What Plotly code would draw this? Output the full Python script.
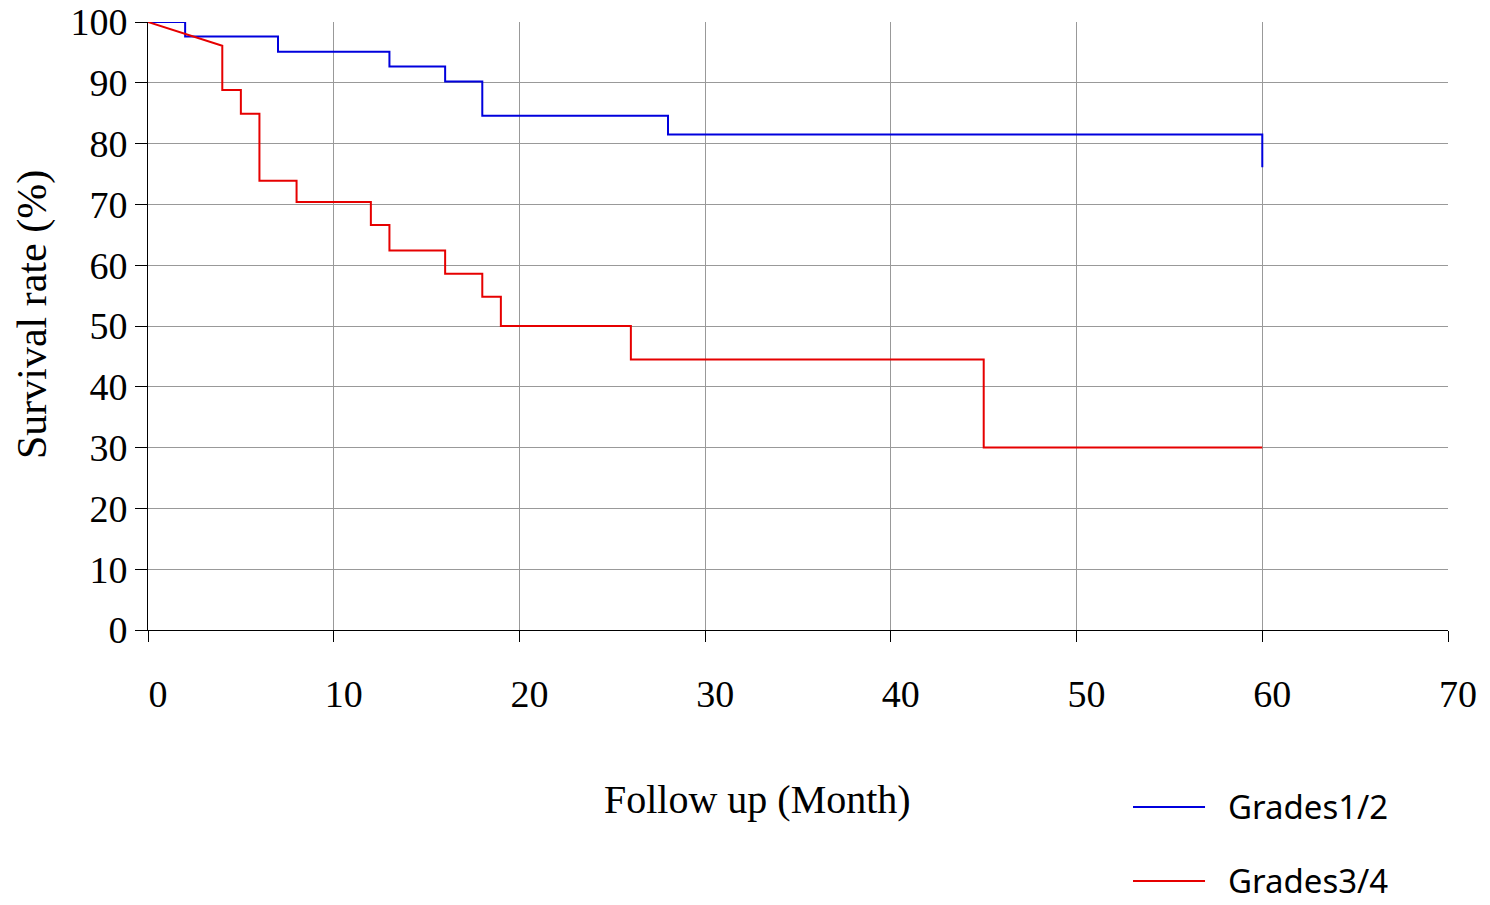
import plotly.graph_objects as go

# Kaplan-Meier survival estimates (%), follow-up in months
series_names = ["Grades1/2", "Grades3/4"]
series_colors = ["#0000dd", "#e60000"]

blue_time = [2, 7, 13, 16, 18, 28, 60]
blue_surv = [97.6, 95.1, 92.7, 90.2, 84.6, 81.5, 76.1]

# the grade 3/4 curve opens with a straight segment to its first point
red_start = (4, 96.1)
red_time = [4, 5, 6, 8, 12, 13, 16, 18, 19, 26, 45]
red_surv = [88.8, 84.9, 73.9, 70.4, 66.6, 62.4, 58.6, 54.8, 50.0, 44.5, 30.0]

follow_end = 60
x_ticks = [0, 10, 20, 30, 40, 50, 60, 70]
y_ticks = [0, 10, 20, 30, 40, 50, 60, 70, 80, 90, 100]


def step_path(times, surv, start=None, end=follow_end):
    xs, ys = [0], [100]
    if start is not None:
        xs.append(start[0])
        ys.append(start[1])
    level = ys[-1]
    for t, s in zip(times, surv):
        xs += [t, t]
        ys += [level, s]
        level = s
    if xs[-1] < end:
        xs.append(end)
        ys.append(level)
    return xs, ys


bx, by = step_path(blue_time, blue_surv)
rx, ry = step_path(red_time, red_surv, start=red_start)

serif = "Liberation Serif, Times New Roman, serif"

fig = go.Figure()
fig.add_trace(go.Scatter(x=bx, y=by, mode="lines", name=series_names[0],
                         line=dict(color=series_colors[0], width=2), showlegend=False))
fig.add_trace(go.Scatter(x=rx, y=ry, mode="lines", name=series_names[1],
                         line=dict(color=series_colors[1], width=2), showlegend=False))

fig.update_layout(
    width=1490, height=905,
    margin=dict(l=148, r=42, t=22, b=275),
    plot_bgcolor="white", paper_bgcolor="white",
    font=dict(family=serif, size=38, color="black"),
)
fig.update_xaxes(
    range=[0, 70], tickvals=x_ticks, ticktext=[str(v) for v in x_ticks],
    showgrid=True, gridcolor="#999999", gridwidth=1,
    showline=True, linecolor="black", linewidth=1,
    ticks="outside", ticklen=11, tickcolor="black",
    ticklabelstandoff=19, ticklabelshift=10,
    zeroline=False, automargin=False,
)
fig.update_yaxes(
    range=[0, 100], tickvals=y_ticks, ticktext=[str(v) for v in y_ticks],
    showgrid=True, gridcolor="#999999", gridwidth=1,
    showline=True, linecolor="black", linewidth=1,
    ticks="outside", ticklen=12, tickcolor="black",
    zeroline=False, automargin=False,
)

# axis titles
fig.add_annotation(xref="paper", yref="paper", x=0.4685, y=-0.2796,
                   text="Follow up (Month)", showarrow=False,
                   xanchor="center", yanchor="middle",
                   font=dict(family=serif, size=40, color="black"))
fig.add_annotation(xref="paper", yref="paper", x=-0.0892, y=0.518,
                   text="Survival rate (%)", showarrow=False, textangle=-90,
                   xanchor="center", yanchor="middle",
                   font=dict(family=serif, size=42, color="black"))

# legend drawn below the plot, to the right of the axis title
legend_rows = [-0.2911, -0.4128]
for name, color, yy in zip(series_names, series_colors, legend_rows):
    fig.add_shape(type="line", xref="paper", yref="paper",
                  x0=0.7577, x1=0.8131, y0=yy, y1=yy,
                  line=dict(color=color, width=2))
    fig.add_annotation(xref="paper", yref="paper", x=0.8292, y=yy,
                       text=name, showarrow=False, xanchor="left", yanchor="middle",
                       font=dict(family="Noto Sans, sans-serif", size=33, color="black"))

fig.write_html("out.html")
